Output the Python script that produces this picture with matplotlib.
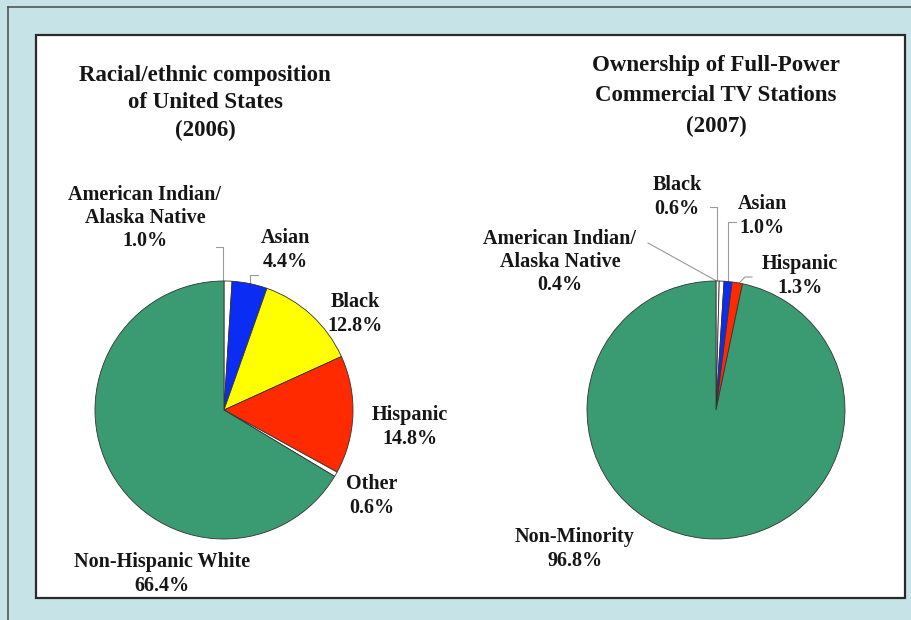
import numpy as np
import matplotlib.pyplot as plt
from matplotlib.patches import Rectangle

# racial/ethnic composition of the US, 2006 (percent)
us_groups = ['American Indian/\nAlaska Native', 'Asian', 'Black', 'Hispanic',
             'Other', 'Non-Hispanic White']
us_share = [1.0, 4.4, 12.8, 14.8, 0.6, 66.4]
us_colors = ['white', '#0b2cf2', '#ffff00', '#ff2a00', 'white', '#3a9b73']

# ownership of full-power commercial TV stations, 2007 (percent)
tv_groups = ['American Indian/\nAlaska Native', 'Black', 'Asian', 'Hispanic',
             'Non-Minority']
tv_share = [0.4, 0.6, 1.0, 1.3, 96.8]
tv_colors = ['white', 'white', '#0b2cf2', '#ff2a00', '#3a9b73']

W, H = 912, 620
FONT = 'Liberation Serif'
INK = '#161616'

fig = plt.figure(figsize=(W / 100, H / 100), dpi=100)
fig.patch.set_facecolor('#c6e4e7')

# pixel-space layer for the frame, titles and labels
bg = fig.add_axes([0, 0, 1, 1])
bg.set_xlim(0, W)
bg.set_ylim(H, 0)
bg.axis('off')
bg.plot([8, 8], [7, H], color='#555555', lw=1.2)
bg.plot([8, W], [7, 7], color='#555555', lw=1.2)
bg.add_patch(Rectangle((36, 35), 869, 563, facecolor='white',
                       edgecolor='#2a2a2a', lw=1.6))


def pie_at(cx, cy, r, values, colors):
    ax = fig.add_axes([(cx - r) / W, (H - cy - r) / H, 2 * r / W, 2 * r / H])
    wedges, _ = ax.pie(values, colors=colors, startangle=90, counterclock=False,
                       wedgeprops=dict(edgecolor='#333333', linewidth=0.6))
    ax.set_xlim(-1, 1)
    ax.set_ylim(-1, 1)
    # rim point (pixels) at the middle of each wedge
    rims = []
    for w in wedges:
        mid = np.deg2rad((w.theta1 + w.theta2) / 2)
        rims.append((cx + r * np.cos(mid), cy - r * np.sin(mid)))
    return rims


def title(x, y, txt, spacing):
    bg.text(x, y, txt, ha='center', va='center', fontsize=16.5,
            fontweight='bold', family=FONT, color=INK, linespacing=spacing)


def label(x, y, txt):
    bg.text(x, y, txt, ha='center', va='center', fontsize=14.5,
            fontweight='bold', family=FONT, color=INK, linespacing=1.22)


def leader(pts):
    xs, ys = zip(*pts)
    bg.plot(xs, ys, color='#9a9a9a', lw=0.8)


# left pie
r1 = pie_at(224, 410, 129, us_share, us_colors)
title(205, 103, 'Racial/ethnic composition\nof United States\n(2006)', 1.42)
label(145, 218, f'{us_groups[0]}\n{us_share[0]:.1f}%')
label(285, 250, f'{us_groups[1]}\n{us_share[1]:.1f}%')
label(355, 314, f'{us_groups[2]}\n{us_share[2]:.1f}%')
label(410, 427, f'{us_groups[3]}\n{us_share[3]:.1f}%')
label(372, 496, f'{us_groups[4]}\n{us_share[4]:.1f}%')
label(162, 574, f'{us_groups[5]}\n{us_share[5]:.1f}%')
x, y = r1[0]
leader([(x - 5, y), (x - 5, 247), (x - 12, 247)])
x, y = r1[1]
leader([(x, y), (x, 275), (x + 8, 275)])

# right pie
r2 = pie_at(716, 410, 129, tv_share, tv_colors)
title(716, 96, 'Ownership of Full-Power\nCommercial TV Stations\n(2007)', 1.6)
label(560, 262, f'{tv_groups[0]}\n{tv_share[0]:.1f}%')
label(677, 197, f'{tv_groups[1]}\n{tv_share[1]:.1f}%')
label(762, 216, f'{tv_groups[2]}\n{tv_share[2]:.1f}%')
label(800, 276, f'{tv_groups[3]}\n{tv_share[3]:.1f}%')
label(575, 549, f'{tv_groups[4]}\n{tv_share[4]:.1f}%')
x, y = r2[0]
leader([(x - 1, y), (648, 243)])
x, y = r2[1]
leader([(x - 5, y), (x - 5, 207), (x - 12, 207)])
x, y = r2[2]
leader([(x, y), (x, 222), (x + 8, 222)])
x, y = r2[3]
leader([(x + 2, y), (745, 277), (752, 277)])

fig.savefig('out.png', dpi=100, facecolor=fig.get_facecolor())
